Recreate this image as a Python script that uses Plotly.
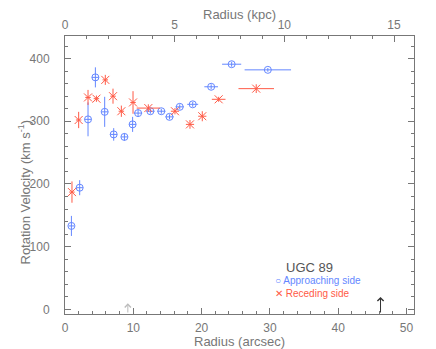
import plotly.graph_objects as go

# Approaching side
app_r = [0.94, 2.15, 3.37, 4.45, 5.81, 7.13, 8.7, 9.9, 10.7, 12.5, 14.1, 15.3, 16.8, 18.7, 21.4, 24.4, 29.7]
app_v = [133, 194, 303, 370, 315, 279, 275, 295, 313, 316, 316, 307, 323, 327, 355, 391, 382]
app_ev = [16, 12, 27, 16, 24, 10, 6, 12, 6, 4, 4, 4, 4, 4, 4, 4, 3]
app_er = [0.4, 0.5, 0.5, 0.5, 0.5, 0.5, 0.5, 0.5, 0.6, 0.6, 0.6, 0.6, 0.6, 0.8, 1.0, 1.4, 3.4]

# Receding side
rec_r = [1.02, 2.0, 3.37, 4.6, 5.9, 7.03, 8.25, 9.96, 12.2, 16.1, 18.3, 20.1, 22.5, 28.0]
rec_v = [187, 302, 338, 336, 366, 340, 316, 330, 321, 316, 295, 308, 335, 352]
rec_ev = [17, 13, 12, 5, 8, 12, 9, 18, 6, 5, 7, 8, 4, 7]
rec_er = [0.4, 0.4, 0.4, 0.4, 0.4, 0.4, 0.4, 0.4, 1.7, 0.6, 0.6, 0.6, 1.0, 2.6]

x_range = [0, 51.1]
kpc_range = [0, 15.91]
y_range = [-7.5, 436]

BLUE = "rgb(100,135,255)"
RED = "rgb(255,90,70)"
AX = "#777777"
FONT = "Liberation Sans"

fig = go.Figure()
fig.add_trace(go.Scatter(
    x=app_r, y=app_v, mode="markers",
    marker=dict(symbol="circle-open", size=7, color=BLUE, line=dict(width=1, color=BLUE)),
    error_y=dict(type="data", array=app_ev, color=BLUE, thickness=1, width=0),
    error_x=dict(type="data", array=app_er, color=BLUE, thickness=1, width=0),
    showlegend=False))
fig.add_trace(go.Scatter(
    x=rec_r, y=rec_v, mode="markers",
    marker=dict(symbol="x-thin-open", size=8, color=RED, line=dict(width=1, color=RED)),
    error_y=dict(type="data", array=rec_ev, color=RED, thickness=1, width=0),
    error_x=dict(type="data", array=rec_er, color=RED, thickness=1, width=0),
    showlegend=False))
# invisible trace to activate top axis
fig.add_trace(go.Scatter(x=kpc_range, y=[None, None], xaxis="x2", mode="markers",
                         showlegend=False, hoverinfo="skip"))

tickfont = dict(family=FONT, size=12, color=AX)
titlefont = dict(family=FONT, size=13, color=AX)
# page body adds an 8px offset; figure is sized to fit the remaining window
fig.update_layout(
    width=428, height=341,
    margin=dict(l=57, r=22, t=28, b=35),
    paper_bgcolor="white", plot_bgcolor="white",
    font=dict(family=FONT, color=AX),
    xaxis=dict(range=x_range, dtick=10, tick0=0, ticks="inside", ticklen=6, tickcolor=AX,
               showline=True, linecolor=AX, linewidth=1, showgrid=False, zeroline=False,
               tickfont=tickfont, ticklabelstandoff=3, automargin=False,
               minor=dict(dtick=2, ticks="inside", ticklen=3, tickcolor=AX)),
    xaxis2=dict(range=kpc_range, overlaying="x", side="top", anchor="y", dtick=5, tick0=0,
                ticks="inside", ticklen=6, tickcolor=AX, showline=True, linecolor=AX, linewidth=1,
                showgrid=False, zeroline=False, tickfont=tickfont, ticklabelstandoff=1,
                automargin=False,
                minor=dict(dtick=1, ticks="inside", ticklen=3, tickcolor=AX)),
    yaxis=dict(range=y_range, dtick=100, tick0=0, ticks="inside", ticklen=6, tickcolor=AX,
               showline=True, linecolor=AX, linewidth=1, mirror="ticks", showgrid=False,
               zeroline=False, tickfont=tickfont, ticklabelstandoff=12, automargin=False,
               minor=dict(dtick=20, ticks="inside", ticklen=3, tickcolor=AX)),
)

# axis titles as annotations
fig.add_annotation(x=-0.118, y=0.44, xref="paper", yref="paper", showarrow=False,
                   xanchor="center", yanchor="middle",
                   text="Rotation Velocity (km s<sup>-1</sup>)", textangle=-90, font=titlefont)
fig.add_annotation(x=0.5, y=-0.098, xref="paper", yref="paper", showarrow=False,
                   xanchor="center", yanchor="middle", text="Radius (arcsec)", font=titlefont)
fig.add_annotation(x=0.5, y=1.078, xref="paper", yref="paper", showarrow=False,
                   xanchor="center", yanchor="middle", text="Radius (kpc)", font=titlefont)

# arrows at bottom
fig.add_annotation(x=46.2, y=19.6, ax=46.2, ay=-7.5, xref="x", yref="y", axref="x", ayref="y",
                   showarrow=True, arrowhead=4, arrowsize=1.2, arrowwidth=1, arrowcolor="#333333", text="")
fig.add_annotation(x=9.2, y=9.5, ax=9.2, ay=-7.5, xref="x", yref="y", axref="x", ayref="y",
                   showarrow=True, arrowhead=4, arrowsize=1.2, arrowwidth=1, arrowcolor="#bbbbbb", text="")

# legend text
fig.add_annotation(x=32.0, y=66, xref="x", yref="y", text="UGC 89", showarrow=False,
                   xanchor="left", font=dict(family=FONT, size=13, color="#555555"))
fig.add_annotation(
    x=30.4, y=35.6, xref="x", yref="y", showarrow=False, xanchor="left", align="left",
    text=(f"<span style='color:{BLUE}'>○ Approaching side</span><br>"
          f"<span style='color:{RED}'>✕ Receding side</span>"),
    font=dict(family=FONT, size=10, color=BLUE))

fig.write_html("out.html")
